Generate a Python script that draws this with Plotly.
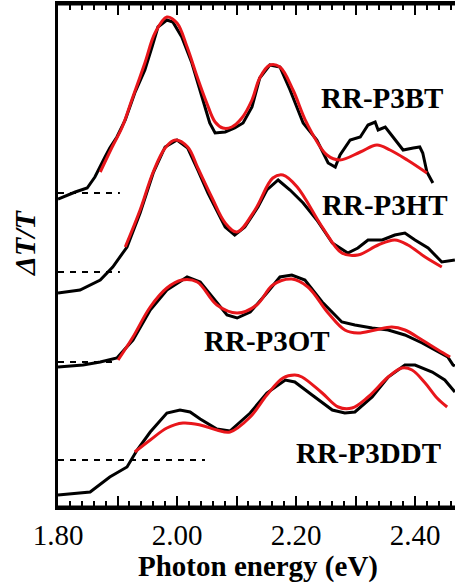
import plotly.graph_objects as go

# ---------------- data (photon energy in eV, signal in arbitrary offset units) ----------------
p3bt_exp_x = [1.800, 1.808, 1.829, 1.849, 1.862, 1.879, 1.887, 1.899, 1.913, 1.929, 1.946, 1.958, 1.968,
              1.983, 1.993, 2.008, 2.025, 2.042, 2.055, 2.064, 2.081, 2.097, 2.111, 2.126, 2.139, 2.156,
              2.173, 2.190, 2.212, 2.235, 2.254, 2.266, 2.274, 2.291, 2.308, 2.321, 2.333, 2.338, 2.350,
              2.363, 2.380, 2.397, 2.408, 2.413, 2.420, 2.430]
p3bt_exp_y = [3.08, 3.10, 3.15, 3.19, 3.30, 3.50, 3.59, 3.70, 3.87, 4.14, 4.37, 4.60, 4.80,
              4.87, 4.85, 4.70, 4.44, 4.10, 3.84, 3.74, 3.75, 3.79, 3.84, 4.00, 4.29, 4.42,
              4.40, 4.17, 3.84, 3.67, 3.44, 3.40, 3.52, 3.67, 3.70, 3.82, 3.85, 3.77, 3.80,
              3.70, 3.57, 3.59, 3.60, 3.54, 3.35, 3.24]
p3bt_fit_x = [1.871, 1.891, 1.908, 1.924, 1.946, 1.963, 1.983, 2.000, 2.017, 2.034, 2.050, 2.064, 2.077,
              2.092, 2.109, 2.126, 2.139, 2.156, 2.173, 2.195, 2.218, 2.252, 2.274, 2.308, 2.336, 2.358,
              2.387, 2.420]
p3bt_fit_y = [3.35, 3.60, 3.80, 4.07, 4.44, 4.74, 4.90, 4.84, 4.60, 4.30, 4.04, 3.85, 3.79,
              3.80, 3.89, 4.07, 4.29, 4.42, 4.40, 4.17, 3.84, 3.52, 3.47, 3.55, 3.62, 3.57,
              3.47, 3.34]

p3ht_exp_x = [1.800, 1.837, 1.871, 1.892, 1.916, 1.938, 1.960, 1.980, 2.000, 2.018, 2.035, 2.052, 2.081,
              2.097, 2.114, 2.136, 2.151, 2.170, 2.190, 2.212, 2.235, 2.261, 2.287, 2.304, 2.321, 2.345,
              2.366, 2.383, 2.400, 2.422, 2.445, 2.467]
p3ht_exp_y = [2.14, 2.17, 2.27, 2.40, 2.60, 2.94, 3.34, 3.60, 3.67, 3.59, 3.37, 3.14, 2.80,
              2.72, 2.80, 3.00, 3.17, 3.27, 3.17, 3.04, 2.87, 2.64, 2.54, 2.59, 2.67, 2.67,
              2.72, 2.74, 2.67, 2.59, 2.45, 2.47]
p3ht_fit_x = [1.913, 1.938, 1.960, 1.980, 1.997, 2.018, 2.035, 2.059, 2.081, 2.101, 2.131, 2.161, 2.178,
              2.202, 2.244, 2.277, 2.304, 2.338, 2.366, 2.388, 2.417, 2.445]
p3ht_fit_y = [2.60, 2.97, 3.35, 3.59, 3.67, 3.60, 3.39, 3.09, 2.84, 2.75, 2.97, 3.29, 3.32,
              3.20, 2.80, 2.54, 2.52, 2.62, 2.67, 2.62, 2.50, 2.40]

p3ot_exp_x = [1.800, 1.842, 1.871, 1.899, 1.926, 1.955, 1.983, 2.017, 2.039, 2.067, 2.084, 2.101, 2.123,
              2.151, 2.173, 2.193, 2.215, 2.244, 2.277, 2.299, 2.328, 2.355, 2.383, 2.412, 2.439, 2.455,
              2.464, 2.467]
p3ot_exp_y = [1.40, 1.42, 1.45, 1.49, 1.67, 1.97, 2.17, 2.30, 2.25, 2.04, 1.92, 1.89, 1.95,
              2.14, 2.30, 2.32, 2.27, 2.05, 1.85, 1.82, 1.79, 1.77, 1.72, 1.64, 1.55, 1.50,
              1.42, 1.41]
p3ot_fit_x = [1.901, 1.926, 1.955, 1.983, 2.008, 2.034, 2.067, 2.101, 2.134, 2.161, 2.193, 2.220, 2.254,
              2.282, 2.304, 2.333, 2.361, 2.383, 2.412, 2.439, 2.459]
p3ot_fit_y = [1.47, 1.70, 2.00, 2.19, 2.27, 2.25, 2.02, 1.94, 2.02, 2.22, 2.28, 2.20, 1.94,
              1.77, 1.74, 1.77, 1.80, 1.77, 1.67, 1.57, 1.50]

p3ddt_exp_x = [1.800, 1.854, 1.887, 1.916, 1.933, 1.955, 1.983, 2.005, 2.022, 2.039, 2.067, 2.089, 2.123,
               2.151, 2.182, 2.198, 2.227, 2.261, 2.282, 2.299, 2.328, 2.355, 2.383, 2.400, 2.429, 2.450,
               2.467]
p3ddt_exp_y = [0.12, 0.15, 0.30, 0.40, 0.57, 0.75, 0.94, 0.97, 0.95, 0.88, 0.78, 0.76, 0.94,
               1.14, 1.27, 1.25, 1.12, 0.97, 0.94, 0.95, 1.10, 1.30, 1.42, 1.42, 1.35, 1.27,
               1.15]
p3ddt_fit_x = [1.929, 1.955, 1.983, 2.010, 2.039, 2.067, 2.089, 2.123, 2.151, 2.178, 2.198, 2.210, 2.244,
               2.271, 2.294, 2.321, 2.355, 2.378, 2.395, 2.417, 2.437, 2.454]
p3ddt_fit_y = [0.55, 0.67, 0.79, 0.84, 0.82, 0.77, 0.75, 0.90, 1.12, 1.29, 1.32, 1.30, 1.14,
               1.00, 0.99, 1.10, 1.30, 1.39, 1.37, 1.24, 1.09, 1.00]

# zero baselines (dashed) : level and x extent
baseline_levels = [3.14, 2.35, 1.45, 0.47]
baseline_x_end = [1.904, 1.904, 1.896, 2.047]

sample_names = ["RR-P3BT", "RR-P3HT", "RR-P3OT", "RR-P3DDT"]
label_x = [2.344, 2.350, 2.151, 2.322]
label_y = [4.09, 3.02, 1.66, 0.54]

tick_vals = [1.80, 1.90, 2.00, 2.10, 2.20, 2.30, 2.40]
tick_text = ["1.80", "", "2.00", "", "2.20", "", "2.40"]

# ---------------- figure ----------------
FONT = "Liberation Serif, Times New Roman, serif"
X_RANGE = [1.80, 2.4672]
Y_RANGE = [0, 5.03]
fig = go.Figure()

for lvl, xe in zip(baseline_levels, baseline_x_end):
    fig.add_trace(go.Scatter(x=[1.80, xe], y=[lvl, lvl], mode="lines",
                             line=dict(color="black", width=2, dash="6px,6px")))

exps = [(p3bt_exp_x, p3bt_exp_y), (p3ht_exp_x, p3ht_exp_y),
        (p3ot_exp_x, p3ot_exp_y), (p3ddt_exp_x, p3ddt_exp_y)]
fits = [(p3bt_fit_x, p3bt_fit_y), (p3ht_fit_x, p3ht_fit_y),
        (p3ot_fit_x, p3ot_fit_y), (p3ddt_fit_x, p3ddt_fit_y)]

for (ex, ey), (fx, fy), name in zip(exps, fits, sample_names):
    fig.add_trace(go.Scatter(x=ex, y=ey, mode="lines", name=name,
                             line=dict(color="black", width=3)))
    fig.add_trace(go.Scatter(x=fx, y=fy, mode="lines", name=name + " fit",
                             line=dict(color="#e8161b", width=3, shape="spline", smoothing=1.0)))

for name, lx, ly in zip(sample_names, label_x, label_y):
    fig.add_annotation(x=lx, y=ly, text="<b>" + name + "</b>", showarrow=False,
                       font=dict(family=FONT, size=29, color="black"),
                       xanchor="center", yanchor="middle")

fig.add_annotation(xref="paper", yref="paper", x=0.504, y=-0.119,
                   text="<b>Photon energy (eV)</b>", showarrow=False,
                   font=dict(family=FONT, size=29, color="black"),
                   xanchor="center", yanchor="middle")
fig.add_annotation(xref="paper", yref="paper", x=-0.083, y=0.525,
                   text="<b><i>ΔT/T</i></b>", showarrow=False, textangle=-90,
                   font=dict(family=FONT, size=30, color="black"),
                   xanchor="center", yanchor="middle")

# frame lines (top / bottom) as shapes, in addition to the axis lines
fig.add_shape(type="line", xref="paper", yref="paper", x0=0, x1=1, y0=0, y1=0,
              line=dict(color="black", width=3))
fig.add_shape(type="line", xref="paper", yref="paper", x0=0, x1=1, y0=1, y1=1,
              line=dict(color="black", width=3))

fig.update_layout(
    template="none", showlegend=False,
    width=455, height=586,
    margin=dict(l=58, r=0, t=4, b=79, autoexpand=False),
    xaxis=dict(range=X_RANGE, showgrid=False,
               showline=True, linecolor="black", linewidth=3, mirror="ticks",
               tickmode="array", tickvals=tick_vals, ticktext=tick_text,
               ticks="inside", ticklen=11, tickwidth=2, tickcolor="black",
               minor=dict(dtick=0.02, tick0=1.80, ticks="inside", ticklen=6,
                          tickwidth=2, tickcolor="black", showgrid=False),
               tickfont=dict(family=FONT, size=29, color="black")),
    yaxis=dict(range=Y_RANGE, showgrid=False,
               zeroline=True, zerolinecolor="black", zerolinewidth=3,
               showline=True, linecolor="black", linewidth=3,
               showticklabels=False),
)

fig.write_html("out.html", config={"displayModeBar": False},
               post_script="document.body.style.margin='0';")
